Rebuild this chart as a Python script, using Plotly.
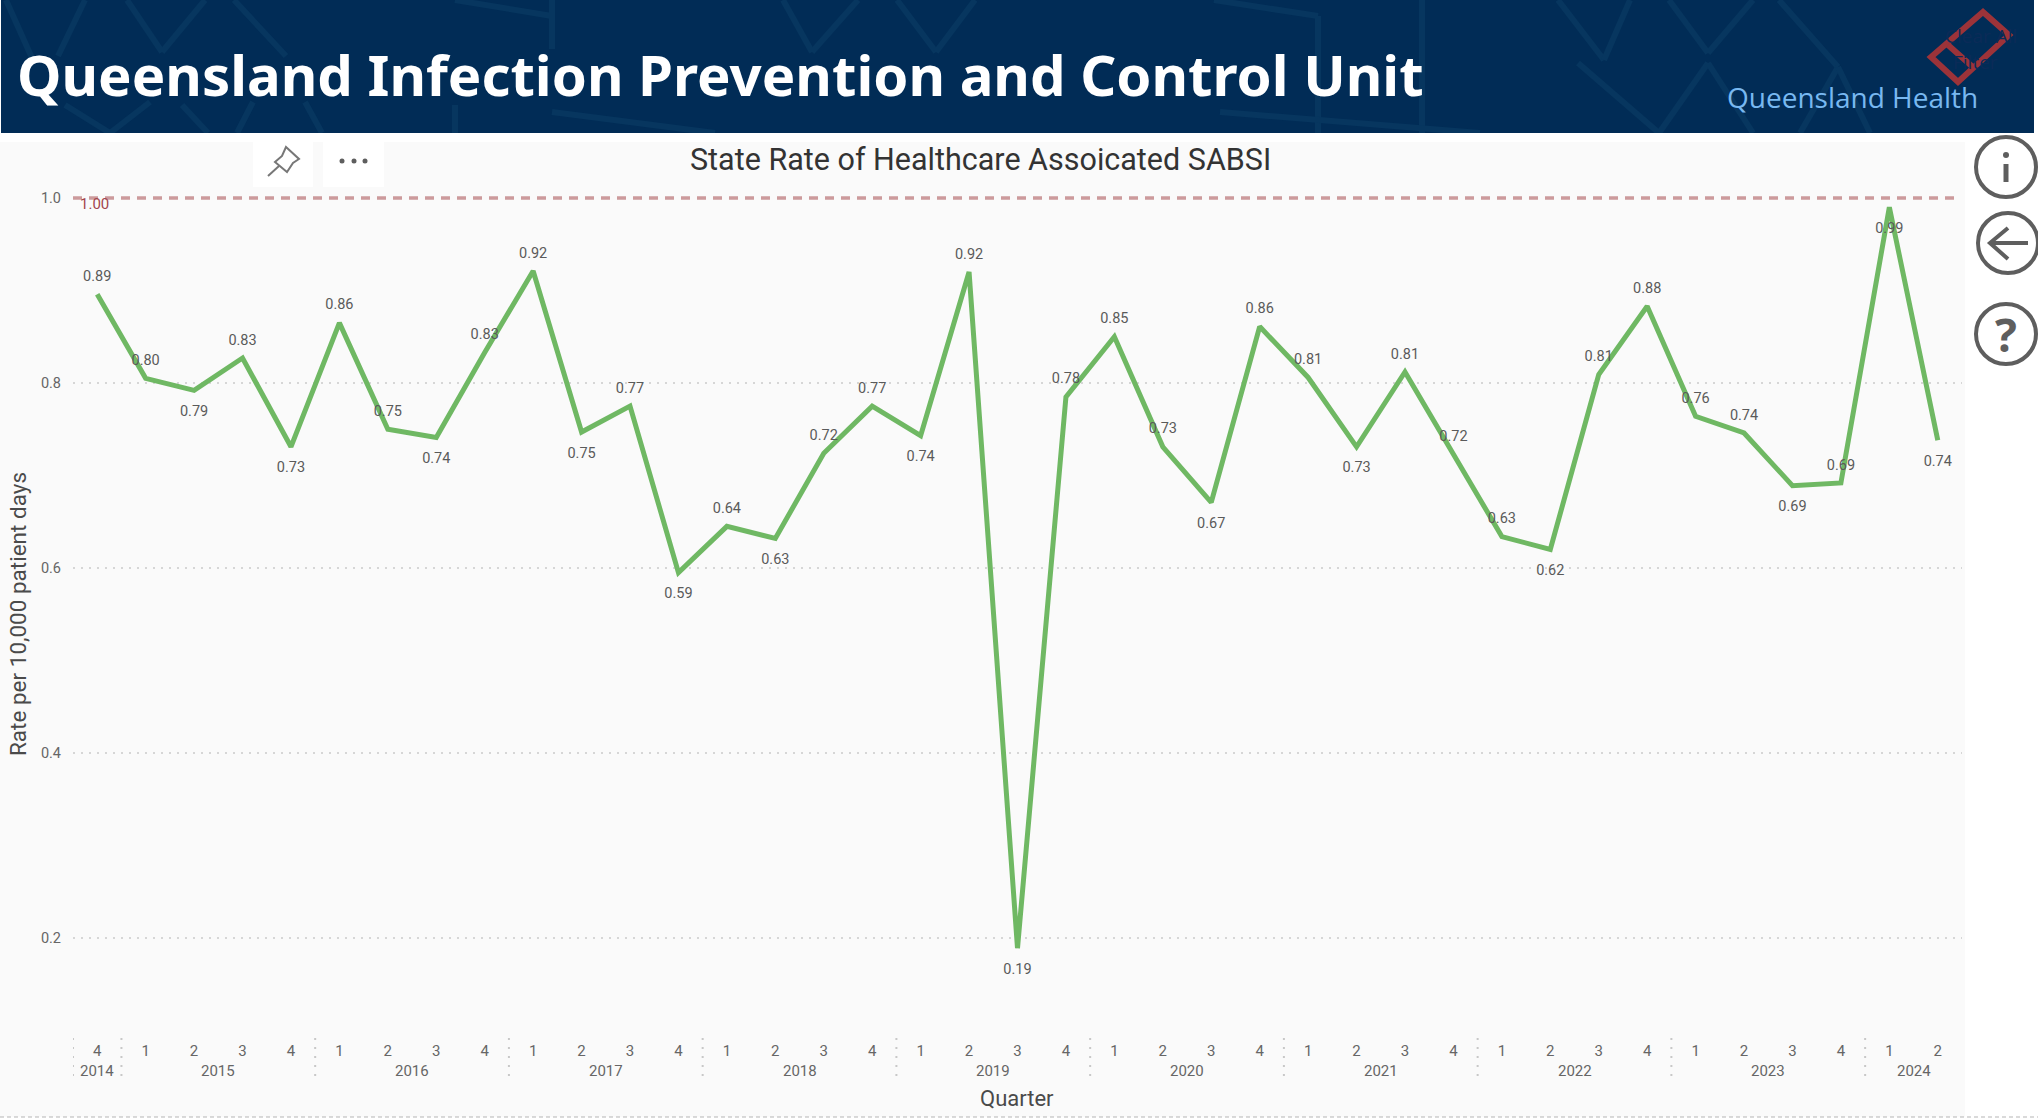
import plotly.graph_objects as go

# ---------- data ----------
years = ["2014"] + [str(y) for y in range(2015, 2024) for _ in range(4)] + ["2024", "2024"]
quarters = ["4"] + ["1", "2", "3", "4"] * 9 + ["1", "2"]
rates = [0.896, 0.805, 0.792, 0.827, 0.731, 0.865, 0.750, 0.741, 0.833, 0.921,
         0.747, 0.775, 0.595, 0.645, 0.632, 0.724, 0.775, 0.743, 0.920, 0.189,
         0.785, 0.850, 0.731, 0.671, 0.861, 0.806, 0.731, 0.812, 0.723, 0.634,
         0.620, 0.809, 0.883, 0.764, 0.746, 0.689, 0.692, 0.990, 0.738]
rate_labels = ["0.89", "0.80", "0.79", "0.83", "0.73", "0.86", "0.75", "0.74", "0.83", "0.92",
               "0.75", "0.77", "0.59", "0.64", "0.63", "0.72", "0.77", "0.74", "0.92", "0.19",
               "0.78", "0.85", "0.73", "0.67", "0.86", "0.81", "0.73", "0.81", "0.72", "0.63",
               "0.62", "0.81", "0.88", "0.76", "0.74", "0.69", "0.69", "0.99", "0.74"]
label_sides = ["top", "top", "bottom", "top", "bottom", "top", "top", "bottom", "top", "top",
               "bottom", "top", "bottom", "top", "bottom", "top", "top", "bottom", "top", "bottom",
               "top", "top", "top", "bottom", "top", "top", "bottom", "top", "top", "top",
               "bottom", "top", "top", "top", "top", "bottom", "top", "bottom", "bottom"]
target_rate = 1.0
target_label = "1.00"
y_ticks = [0.2, 0.4, 0.6, 0.8, 1.0]

main_title = "Queensland Infection Prevention and Control Unit"
org_name = "Queensland Health"
chart_title = "State Rate of Healthcare Assoicated SABSI"
y_title = "Rate per 10,000 patient days"
x_title = "Quarter"

# ---------- page geometry ----------
W, H = 2038, 1118
PL, PR, PT, PB = 73, 1962, 190, 1038
FONT = "Roboto, sans-serif"
NAVY = "#012c56"
PATTERN = "#07365f"
GREY = "#5e5e5e"
PANEL = "#fafafa"


def px(x):
    return (x - PL) / (PR - PL)


def py(y):
    return (PB - y) / (PB - PT)


def rect(x0, y0, x1, y1, fill, layer="below"):
    return dict(type="rect", xref="paper", yref="paper", x0=px(x0), x1=px(x1), y0=py(y0), y1=py(y1),
                fillcolor=fill, line=dict(width=0), layer=layer)


def seg(x0, y0, x1, y1, color, width, layer="below", dash="solid"):
    return dict(type="line", xref="paper", yref="paper", x0=px(x0), x1=px(x1), y0=py(y0), y1=py(y1),
                line=dict(color=color, width=width, dash=dash), layer=layer)


def circle(cx, cy, r, color, width=0, fill="rgba(0,0,0,0)", layer="above"):
    return dict(type="circle", xref="paper", yref="paper", x0=px(cx - r), x1=px(cx + r),
                y0=py(cy + r), y1=py(cy - r), fillcolor=fill,
                line=dict(color=color, width=width), layer=layer)


def poly(points, color, width, fill="rgba(0,0,0,0)", close=True):
    d = "M " + " L ".join(f"{px(a):.5f},{py(b):.5f}" for a, b in points) + (" Z" if close else "")
    return dict(type="path", xref="paper", yref="paper", path=d, fillcolor=fill,
                line=dict(color=color, width=width), layer="above")


def note(x, y, text, size, color, xanchor="center", yanchor="middle", bold=False, family=FONT, angle=0):
    return dict(xref="paper", yref="paper", x=px(x), y=py(y), text=f"<b>{text}</b>" if bold else text,
                showarrow=False, xanchor=xanchor, yanchor=yanchor, textangle=angle,
                font=dict(size=size, color=color, family=family))


shapes = [
    rect(0, 142, 1965, 1117, PANEL),
    rect(1, -5, 2034, 133, NAVY),
    seg(0, 1117, W, 1117, "#b5b5b5", 1, dash="4px,3px"),
]

# header background lattice
lattice = [
    (6, 0, 32, 58), (85, 0, 58, 56), (127, 0, 162, 52), (205, 0, 162, 52), (234, 0, 286, 56),
    (455, 0, 552, 16), (552, 0, 552, 49), (783, 0, 812, 52), (858, 0, 812, 52),
    (897, 0, 936, 52), (975, 0, 936, 52), (65, 105, 110, 133), (150, 102, 110, 133),
    (182, 105, 208, 133), (253, 102, 237, 133), (305, 102, 322, 133), (455, 105, 455, 133),
    (552, 112, 715, 133), (1214, 0, 1318, 16), (1318, 16, 1318, 133), (1422, 0, 1422, 133),
    (1558, 0, 1604, 60), (1630, 0, 1604, 60), (1669, 0, 1708, 53), (1753, 0, 1708, 53),
    (1779, 0, 1838, 67), (1578, 63, 1659, 133), (1708, 63, 1659, 133), (1708, 63, 1753, 133),
    (1838, 67, 1800, 133), (1838, 67, 1870, 133), (1220, 112, 1480, 133),
]
shapes += [seg(*l, PATTERN, 6) for l in lattice]
shapes.append(rect(0, 133, W, 142, "#ffffff"))

# logo
shapes += [
    poly([(1983, 12), (2009, 35), (1958, 82), (1931, 57)], "#9c3339", 6),
    seg(1948, 45, 1975, 69, "#9c3339", 6, layer="above"),
]

# pin + more buttons
shapes += [
    rect(253, 142, 313, 187, "#ffffff"),
    rect(323, 142, 384, 187, "#ffffff"),
    poly([(286, 147), (299, 159), (293, 163), (287, 172), (275, 162), (282, 156)], "#777777", 2),
    seg(279, 166, 268, 176, "#777777", 2, layer="above"),
    circle(342, 161, 2.5, GREY, fill=GREY),
    circle(354, 161, 2.5, GREY, fill=GREY),
    circle(365, 161, 2.5, GREY, fill=GREY),
]

# side icons
shapes += [
    circle(2006, 167, 30, GREY, 4),
    circle(2008, 243, 30, GREY, 4),
    circle(2006, 334, 30, GREY, 4),
    circle(2006, 155, 3, GREY, fill=GREY),
    seg(2006, 164, 2006, 182, GREY, 5, layer="above"),
    seg(1990, 243, 2028, 243, GREY, 4, layer="above"),
    poly([(2008, 228), (1990, 243), (2008, 259)], GREY, 4, close=False),
]

n = len(rates)
positions_x = list(range(n))

# year dividers on the x scale: between the last quarter of a year and the next
year_breaks = [i for i in positions_x if i == 0 or years[i] != years[i - 1]]
for i in year_breaks:
    shapes.append(dict(type="line", xref="x", yref="paper", x0=i - 0.5, x1=i - 0.5, y0=py(1038), y1=py(1078),
                       line=dict(color="#c8c8c8", width=2, dash="2px,7px"), layer="below"))

# target line: blank the dotted grid under it, then draw the dashes
shapes.append(dict(type="rect", xref="x domain", yref="y", x0=0, x1=1,
                   y0=target_rate - 0.003, y1=target_rate + 0.003,
                   fillcolor=PANEL, line=dict(width=0), layer="above"))
shapes.append(dict(type="line", xref="x domain", yref="y", x0=0, x1=0.9975, y0=target_rate, y1=target_rate,
                   line=dict(color="#cc9a9c", width=3.5, dash="9px,7px"), layer="above"))

annotations = [
    note(15, 74, main_title, 56.3, "#ffffff", xanchor="left", bold=True, family="'Noto Sans', sans-serif"),
    note(1852, 97, org_name, 28, "#78b8f0", family="'Open Sans', sans-serif"),
    note(1981, 36, "Clear All", 19, "#0b2b58", family="'Open Sans', sans-serif"),
    note(1975, 62, "Filter", 19, "#0b2b58", family="'Open Sans', sans-serif"),
    note(980, 160, chart_title, 30.5, "#333333"),
    note(78, 204, target_label, 15, "#a3454d", xanchor="left"),
    note(2006, 334, "?", 46, GREY, bold=True, family="'Open Sans', sans-serif"),
    note(18, 614, y_title, 22.5, "#4a4a4a", angle=-90),
    note(1017, 1098, x_title, 22, "#4a4a4a"),
]

# year captions sit under the quarter ticks, centred on each year's quarters
for j, i in enumerate(year_breaks):
    end = year_breaks[j + 1] - 1 if j + 1 < len(year_breaks) else n - 1
    annotations.append(dict(xref="x", yref="paper", x=(i + end) / 2, y=py(1071), text=years[i],
                            showarrow=False, xanchor="center", yanchor="middle",
                            font=dict(size=15, color="#666666", family=FONT)))

side_gap = {"top": 14, "bottom": 22}

fig = go.Figure(go.Scatter(
    x=positions_x,
    y=rates,
    mode="lines+markers+text",
    text=rate_labels,
    textposition=[f"{s} center" for s in label_sides],
    textfont=dict(size=14.5, color="#5a5a5a", family=FONT),
    marker=dict(size=[side_gap[s] for s in label_sides], opacity=0, color="#6fb863"),
    line=dict(color="#6fb863", width=5),
    cliponaxis=False,
    hoverinfo="skip",
    showlegend=False,
))

scale = 925.0  # pixels per unit of rate
fig.update_layout(
    width=W, height=H, autosize=False,
    margin=dict(l=PL, r=W - PR, t=PT, b=H - PB, pad=0, autoexpand=False),
    paper_bgcolor="#ffffff",
    plot_bgcolor="rgba(0,0,0,0)",
    shapes=shapes,
    annotations=annotations,
    font=dict(family=FONT, color="#5a5a5a"),
    xaxis=dict(
        automargin=False,
        range=[-0.5, n - 0.5],
        tickvals=positions_x, ticktext=quarters, tickangle=0,
        showgrid=False, zeroline=False, showline=False, ticks="",
        ticklabelstandoff=2,
        tickfont=dict(size=15, color="#666666"),
    ),
    yaxis=dict(
        automargin=False,
        range=[0.2 - (PB - 938) / scale, 1.0 + (198 - PT) / scale],
        tickvals=y_ticks, ticktext=[f"{v:.1f}" for v in y_ticks],
        showgrid=True, griddash="1.5px,6.5px", gridcolor="#d6d6d6", gridwidth=1.5,
        zeroline=False, showline=False, ticks="",
        ticklabelstandoff=11,
        tickfont=dict(size=14.5, color="#666666"),
    ),
)

fig.write_html(
    "out.html",
    config=dict(displayModeBar=False, responsive=False),
    post_script="document.body.style.margin='0';document.body.style.overflow='hidden';",
)
